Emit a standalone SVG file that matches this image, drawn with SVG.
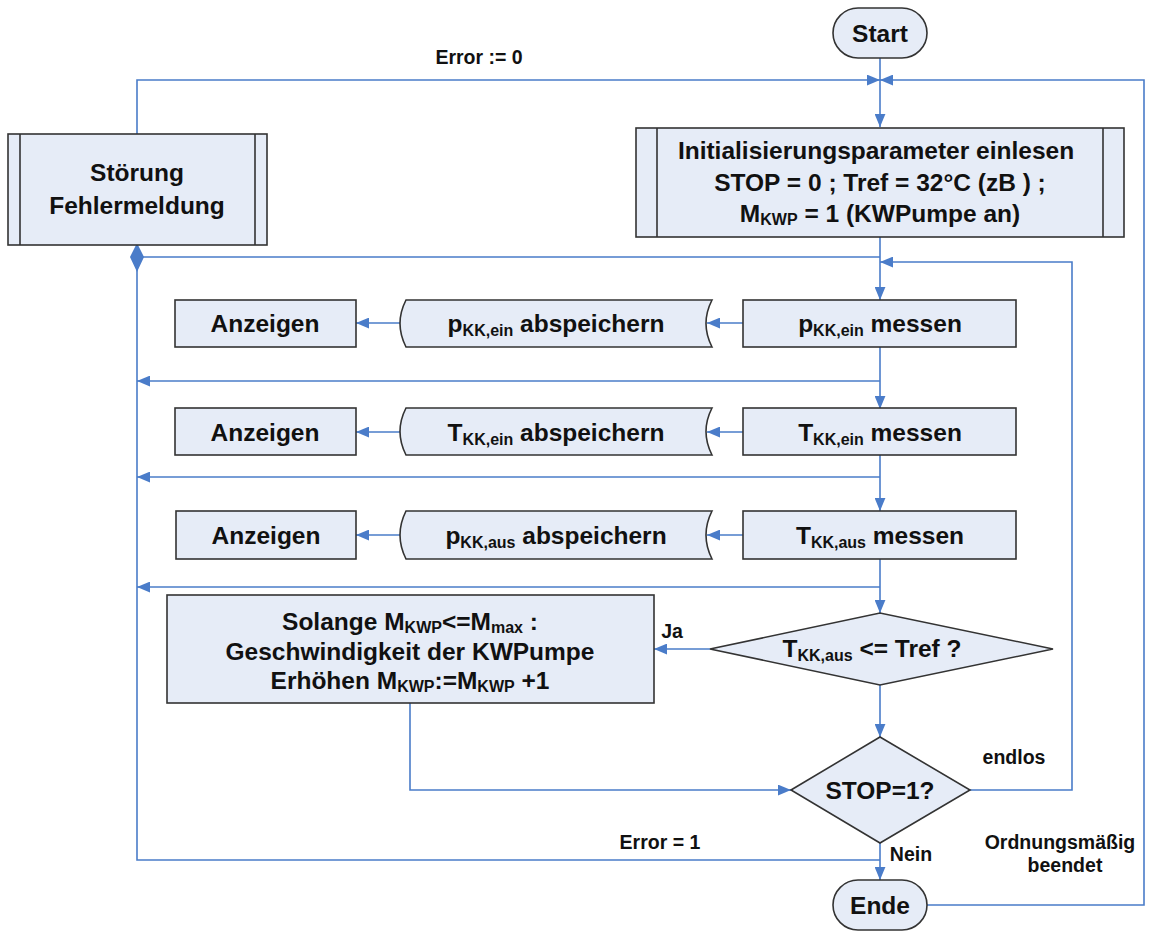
<svg xmlns="http://www.w3.org/2000/svg" width="1149" height="931" viewBox="0 0 1149 931">
  <style>
    .box { fill: #E6ECF7; stroke: #333; stroke-width: 1.6; }
    .t { font-family: "Liberation Sans", Arial, sans-serif; font-weight: bold; font-size: 24.5px; fill: #111; text-anchor: middle; }
    .lbl { font-family: "Liberation Sans", Arial, sans-serif; font-weight: bold; font-size: 19.5px; fill: #111; text-anchor: middle; }
    .sub { font-size: 16px; }
    .c { fill: none; stroke: #4A7CC9; stroke-width: 1.6; }
    .ca { fill: none; stroke: #4A7CC9; stroke-width: 1.6; marker-end: url(#ah); }
  </style>
  <defs>
    <marker id="ah" viewBox="0 0 12 10" refX="12" refY="5" markerWidth="13" markerHeight="11" markerUnits="userSpaceOnUse" orient="auto">
      <path d="M0,0 L12,5 L0,10 z" fill="#4A7CC9"/>
    </marker>
  </defs>

  <rect width="1149" height="931" fill="#fff"/>

  <!-- connectors -->
  <g id="connectors">
    <path class="ca" d="M880,58 V127"/>
    <path class="ca" d="M137,134 V80 H880"/>
    <path class="ca" d="M927,905 H1144 V80 H880"/>
    <path class="ca" d="M880,237 V300"/>
    <path class="ca" d="M970,790 H1072 V262 H880"/>
    <path class="c" d="M880,257 H137 V860 H880"/>
    <path d="M137,243 L144,257 L137,272 L130,257 Z" fill="#4A7CC9"/>
    <!-- row 1 -->
    <path class="ca" d="M743,323 H707"/>
    <path class="ca" d="M400,323 H356"/>
    <path class="ca" d="M880,347 V409"/>
    <path class="ca" d="M880,381 H137"/>
    <!-- row 2 -->
    <path class="ca" d="M743,432 H707"/>
    <path class="ca" d="M400,432 H356"/>
    <path class="ca" d="M880,455 V511"/>
    <path class="ca" d="M880,477 H137"/>
    <!-- row 3 -->
    <path class="ca" d="M743,535 H707"/>
    <path class="ca" d="M400,535 H356"/>
    <path class="ca" d="M880,559 V613"/>
    <path class="ca" d="M880,587 H137"/>
    <!-- decisions -->
    <path class="ca" d="M710,649 H654"/>
    <path class="ca" d="M880,685 V737"/>
    <path class="ca" d="M410,703 V790 H791"/>
    <path class="ca" d="M880,843 V880"/>
  </g>

  <!-- labels on connectors -->
  <g id="labels">
    <text class="lbl" x="479" y="64">Error := 0</text>
    <text class="lbl" x="672" y="638">Ja</text>
    <text class="lbl" x="1014" y="764">endlos</text>
    <text class="lbl" x="660" y="849">Error = 1</text>
    <text class="lbl" x="911" y="861">Nein</text>
    <text class="lbl" x="1060" y="849">Ordnungsmäßig</text>
    <text class="lbl" x="1065" y="872">beendet</text>
  </g>

  <g id="start">
    <rect class="box" x="833" y="8" width="94" height="50" rx="25"/>
    <text class="t" x="880" y="42">Start</text>
  </g>

  <g id="stoerung">
    <rect class="box" x="8" y="134" width="259" height="111"/>
    <line x1="20" y1="134" x2="20" y2="245" stroke="#333" stroke-width="1.6"/>
    <line x1="255" y1="134" x2="255" y2="245" stroke="#333" stroke-width="1.6"/>
    <text class="t" x="137" y="181">Störung</text>
    <text class="t" x="137" y="214">Fehlermeldung</text>
  </g>

  <g id="init">
    <rect class="box" x="636" y="128" width="488" height="109"/>
    <line x1="657" y1="128" x2="657" y2="237" stroke="#333" stroke-width="1.6"/>
    <line x1="1103" y1="128" x2="1103" y2="237" stroke="#333" stroke-width="1.6"/>
    <text class="t" x="876" y="159">Initialisierungsparameter einlesen</text>
    <text class="t" x="880" y="191">STOP = 0 ; Tref = 32°C (zB ) ;</text>
    <text class="t" x="880" y="222">M<tspan class="sub" dy="3">KWP</tspan><tspan dy="-3"> = 1 (KWPumpe an)</tspan></text>
  </g>

  <!-- row 1 -->
  <g id="anzeigen1">
    <rect class="box" x="175" y="300" width="181" height="47"/>
    <text class="t" x="265" y="332">Anzeigen</text>
  </g>
  <g id="speichern1">
    <path class="box" d="M406,300 H712 Q700,323.5 712,347 H406 Q394,323.5 406,300 Z"/>
    <text class="t" x="556" y="332">p<tspan class="sub" dy="4">KK,ein</tspan><tspan dy="-4"> abspeichern</tspan></text>
  </g>
  <g id="messen1">
    <rect class="box" x="743" y="300" width="273" height="47"/>
    <text class="t" x="880" y="332">p<tspan class="sub" dy="4">KK,ein</tspan><tspan dy="-4"> messen</tspan></text>
  </g>

  <!-- row 2 -->
  <g id="anzeigen2">
    <rect class="box" x="175" y="408" width="181" height="47"/>
    <text class="t" x="265" y="441">Anzeigen</text>
  </g>
  <g id="speichern2">
    <path class="box" d="M406,408 H712 Q700,431.5 712,455 H406 Q394,431.5 406,408 Z"/>
    <text class="t" x="556" y="441">T<tspan class="sub" dy="4">KK,ein</tspan><tspan dy="-4"> abspeichern</tspan></text>
  </g>
  <g id="messen2">
    <rect class="box" x="743" y="408" width="273" height="47"/>
    <text class="t" x="880" y="441">T<tspan class="sub" dy="4">KK,ein</tspan><tspan dy="-4"> messen</tspan></text>
  </g>

  <!-- row 3 -->
  <g id="anzeigen3">
    <rect class="box" x="176" y="511" width="180" height="48"/>
    <text class="t" x="266" y="544">Anzeigen</text>
  </g>
  <g id="speichern3">
    <path class="box" d="M406,511 H712 Q700,535 712,559 H406 Q394,535 406,511 Z"/>
    <text class="t" x="556" y="544">p<tspan class="sub" dy="4">KK,aus</tspan><tspan dy="-4"> abspeichern</tspan></text>
  </g>
  <g id="messen3">
    <rect class="box" x="743" y="511" width="273" height="48"/>
    <text class="t" x="880" y="544">T<tspan class="sub" dy="4">KK,aus</tspan><tspan dy="-4"> messen</tspan></text>
  </g>

  <g id="erhoehen">
    <rect class="box" x="167" y="595" width="487" height="108"/>
    <text class="t" x="410" y="630">Solange M<tspan class="sub" dy="3">KWP</tspan><tspan dy="-3">&lt;=M</tspan><tspan class="sub" dy="3">max</tspan><tspan dy="-3"> :</tspan></text>
    <text class="t" x="410" y="660">Geschwindigkeit der KWPumpe</text>
    <text class="t" x="410" y="689">Erhöhen M<tspan class="sub" dy="3">KWP</tspan><tspan dy="-3">:=M</tspan><tspan class="sub" dy="3">KWP</tspan><tspan dy="-3"> +1</tspan></text>
  </g>

  <g id="vergleich">
    <polygon class="box" points="710,649 880,613 1053,649 880,685"/>
    <text class="t" x="872" y="657">T<tspan class="sub" dy="4">KK,aus</tspan><tspan dy="-4"> &lt;= Tref ?</tspan></text>
  </g>

  <g id="stop">
    <polygon class="box" points="791,790 880,737 970,790 880,843"/>
    <text class="t" x="880" y="799">STOP=1?</text>
  </g>

  <g id="ende">
    <rect class="box" x="833" y="880" width="94" height="50" rx="25"/>
    <text class="t" x="880" y="914">Ende</text>
  </g>
</svg>
